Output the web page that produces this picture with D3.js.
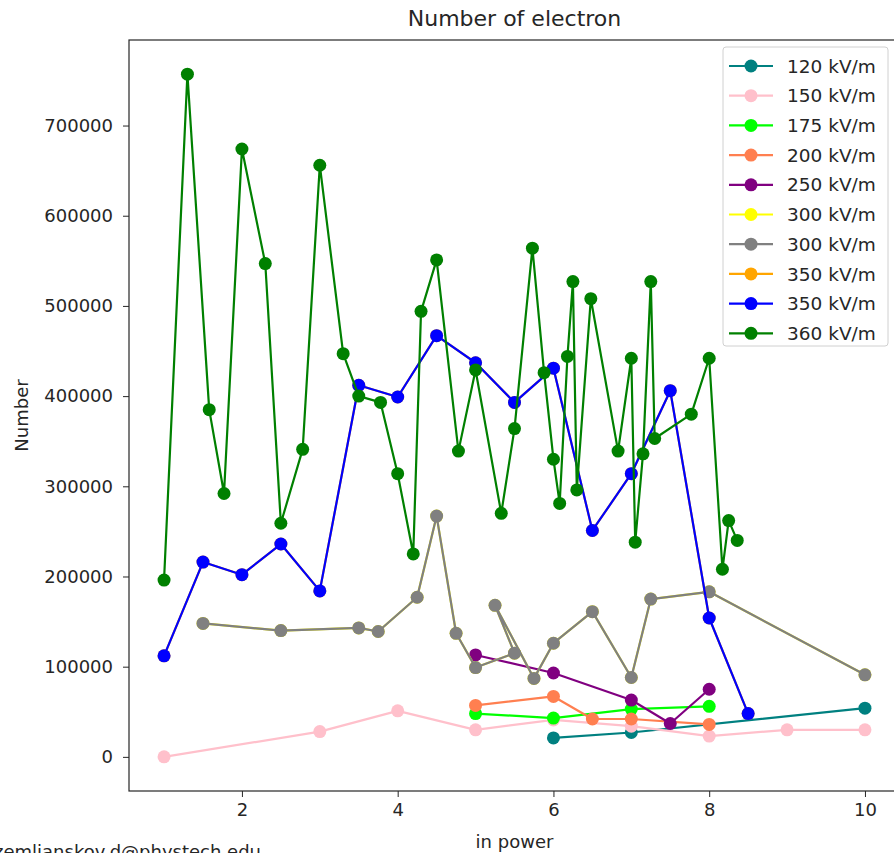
<!DOCTYPE html>
<html><head><meta charset="utf-8">
<script src="https://cdn.jsdelivr.net/npm/d3@7"></script>
<style>body{margin:0;background:#fff}svg{display:block}text{font-family:"DejaVu Sans",sans-serif;fill:#262626}</style>
</head><body>
<svg id="c" width="894" height="853"></svg>
<script>
// Series (x = in power, y = Number)
const s120x = [6, 7, 10];
const s120y = [21000, 27000, 54000];
const s150x = [1, 3, 4, 5, 6, 7, 8, 9, 10];
const s150y = [0, 28000, 51000, 30000, 41000, 34000, 23000, 30000, 30000];
const s175x = [5, 6, 7, 8];
const s175y = [48000, 43000, 53000, 56000];
const s200x = [5, 6, 6.5, 7, 8];
const s200y = [57000, 67000, 42000, 42000, 36000];
const s250x = [5, 6, 7, 7.5, 8];
const s250y = [113000, 93000, 63000, 37000, 75000];
const s300x = [1.5, 2.5, 3.5, 3.75, 4.25, 4.5, 4.75, 5, 5.5, 5.25, 5.75, 6, 6.5, 7, 7.25, 8, 10];
const s300y = [148000, 140000, 143000, 139000, 177000, 267000, 137000, 99000, 115000, 168000, 87000, 126000, 161000, 88000, 175000, 183000, 91000];
const s350x = [1, 1.5, 2, 2.5, 3, 3.5, 4, 4.5, 5, 5.5, 6, 6.5, 7, 7.5, 8, 8.5];
const s350y = [112000, 216000, 202000, 236000, 184000, 412000, 399000, 467000, 437000, 393000, 431000, 251000, 314000, 406000, 154000, 48000];
const s360x = [1, 1.3, 1.58, 1.77, 2, 2.3, 2.5, 2.78, 3, 3.3, 3.5, 3.78, 4, 4.2, 4.3, 4.5, 4.78, 5, 5.33, 5.5, 5.73, 5.88, 6, 6.08, 6.18, 6.25, 6.3, 6.48, 6.83, 7, 7.05, 7.15, 7.25, 7.3, 7.77, 8, 8.17, 8.25, 8.36];
const s360y = [196000, 757000, 385000, 292000, 674000, 547000, 259000, 341000, 656000, 447000, 400000, 393000, 314000, 225000, 494000, 551000, 339000, 429000, 270000, 364000, 564000, 426000, 330000, 281000, 444000, 527000, 296000, 508000, 339000, 442000, 238000, 336000, 527000, 353000, 380000, 442000, 208000, 262000, 240000];

const seriesLabels = ["120 kV/m","150 kV/m","175 kV/m","200 kV/m","250 kV/m","300 kV/m","300 kV/m","350 kV/m","350 kV/m","360 kV/m"];
const seriesColors = ["#008080","#ffc0cb","#00ff00","#ff7f50","#800080","#ffff00","#808080","#ffa500","#0000ff","#008000"];
const seriesX = [s120x, s150x, s175x, s200x, s250x, s300x, s300x, s350x, s350x, s360x];
const seriesY = [s120y, s150y, s175y, s200y, s250y, s300y, s300y, s350y, s350y, s360y];

const xTicks = [2, 4, 6, 8, 10];
const yTicks = [0, 100000, 200000, 300000, 400000, 500000, 600000, 700000];

const svg = d3.select("#c");
const L = 129, R = 900, T = 40, B = 791;
const x = d3.scaleLinear().domain([0.55, 10.45]).range([L, R]);
const y = d3.scaleLinear().domain([-37850, 794850]).range([B, T]);

// axes
const xa = svg.append("g").attr("transform", `translate(0,${B})`)
  .call(d3.axisBottom(x).tickValues(xTicks).tickFormat(d3.format("d")).tickSize(6).tickPadding(6));
const ya = svg.append("g").attr("transform", `translate(${L},0)`)
  .call(d3.axisLeft(y).tickValues(yTicks).tickFormat(d3.format("d")).tickSize(6).tickPadding(10));
[xa, ya].forEach(g => {
  g.select(".domain").remove();
  g.selectAll("line").attr("stroke", "#262626").attr("stroke-width", 1);
  g.selectAll("text").style("font-size", "18px").attr("fill", "#262626");
});
// frame
svg.append("rect").attr("x", L).attr("y", T).attr("width", R - L).attr("height", B - T)
  .attr("fill", "none").attr("stroke", "#262626").attr("stroke-width", 1.2);

// series
const line = d3.line().x(d => x(d[0])).y(d => y(d[1]));
seriesLabels.forEach((lab, i) => {
  const pts = seriesX[i].map((v, j) => [v, seriesY[i][j]]);
  const g = svg.append("g");
  g.append("path").datum(pts).attr("d", line).attr("fill", "none")
    .attr("stroke", seriesColors[i]).attr("stroke-width", 2.2).attr("stroke-linejoin", "round");
  g.selectAll("circle").data(pts).join("circle")
    .attr("cx", d => x(d[0])).attr("cy", d => y(d[1])).attr("r", 6.5).attr("fill", seriesColors[i]);
});

// legend
const lg = svg.append("g");
lg.append("rect").attr("x", 723).attr("y", 47).attr("width", 165).attr("height", 299).attr("rx", 3)
  .attr("fill", "#fff").attr("fill-opacity", 0.8).attr("stroke", "#d0d0d0");
seriesLabels.forEach((lab, i) => {
  const cy = 66 + i * 29.7;
  lg.append("line").attr("x1", 729).attr("x2", 773).attr("y1", cy).attr("y2", cy)
    .attr("stroke", seriesColors[i]).attr("stroke-width", 2.2);
  lg.append("circle").attr("cx", 751).attr("cy", cy).attr("r", 6.5).attr("fill", seriesColors[i]);
  lg.append("text").attr("x", 787).attr("y", cy).attr("dy", "0.36em").style("font-size", "18.5px").text(lab);
});

// titles
svg.append("text").attr("x", (L + R) / 2).attr("y", 26).attr("text-anchor", "middle")
  .style("font-size", "22px").text("Number of electron");
svg.append("text").attr("x", (L + R) / 2).attr("y", 848).attr("text-anchor", "middle")
  .style("font-size", "18px").text("in power");
svg.append("text").attr("transform", `translate(28,${(T + B) / 2}) rotate(-90)`).attr("text-anchor", "middle")
  .style("font-size", "18px").text("Number");
svg.append("text").attr("x", -6).attr("y", 858).style("font-size", "18px").attr("fill", "#000")
  .text("zemlianskov.d@phystech.edu");
</script>
</body></html>
